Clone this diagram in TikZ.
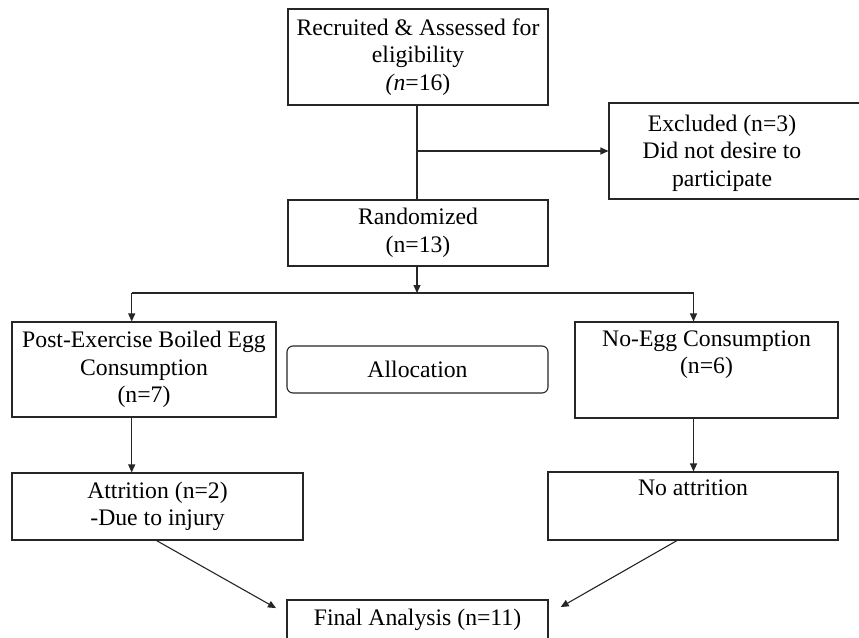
\documentclass[tikz,border=0pt]{standalone}
\usepackage{fontspec}
\setmainfont{Liberation Serif}
\usetikzlibrary{arrows.meta}
\begin{document}
\begin{tikzpicture}[x=1pt,y=-1pt,
  box/.style={draw=black!85, line width=1.1pt, inner sep=0pt, align=center,
    font=\fontsize{23.7}{27.5}\selectfont},
  txt/.style={inner sep=0pt, align=center, font=\fontsize{23.7}{27.5}\selectfont},
  conn/.style={draw=black!85, line width=1.1pt},
  arr/.style={conn, -{Triangle[length=8pt,width=7pt]}}]
\clip (0,0) rectangle (859,637);
\fill[white] (0,0) rectangle (859,637);

\node[box, minimum width=260, minimum height=96] (top) at (418,57)
  {Recruited \& Assessed for\\eligibility\\\textit{(n}=16)};
\node[box, minimum width=261, minimum height=96] (excl) at (739.5,151) {};
\node[txt] (excltxt) at (722,153) {Excluded (n=3)\\Did not desire to\\participate};
\node[box, minimum width=260, minimum height=66] (rand) at (418,233)
  {Randomized\\(n=13)};
\node[box, minimum width=264, minimum height=95] (left) at (144,369.5)
  {Post-Exercise Boiled Egg\\Consumption\\(n=7)};
\node[box, rounded corners=6pt, minimum width=261, minimum height=47] (alloc) at (417.5,369.5)
  {Allocation};
\node[box, minimum width=263, minimum height=96] (right) at (706.5,370)
  {No-Egg Consumption\\(n=6)\\\strut};
\node[box, minimum width=291, minimum height=67] (attr) at (157.5,506.5)
  {Attrition (n=2)\\-Due to injury};
\node[box, minimum width=290, minimum height=68] (noatt) at (693,506)
  {No attrition\\\strut};
\node[box, minimum width=261, minimum height=40] (final) at (417.5,620)
  {Final Analysis (n=11)};

\coordinate (ex) at (417,151);
\coordinate (br) at (417,293);
\coordinate (bl) at (131.7,293);
\coordinate (brr) at (693.5,293);

\draw[conn] (top.south -| br) -- (rand.north -| br);
\draw[arr] (ex) -- (excl.west);
\draw[arr] (rand.south -| br) -- (br);
\draw[conn] (bl) -- (brr);
\draw[arr] (bl) -- (bl |- left.north);
\draw[arr] (brr) -- (brr |- right.north);
\draw[arr] (bl |- left.south) -- (bl |- attr.north);
\draw[arr] (brr |- right.south) -- (brr |- noatt.north);
\draw[arr, shorten >=12pt] ([xshift=-1pt]attr.south) -- ([yshift=6pt]final.west);
\draw[arr, shorten >=14pt] ([xshift=-16pt]noatt.south) -- ([yshift=6pt]final.east);
\end{tikzpicture}
\end{document}
